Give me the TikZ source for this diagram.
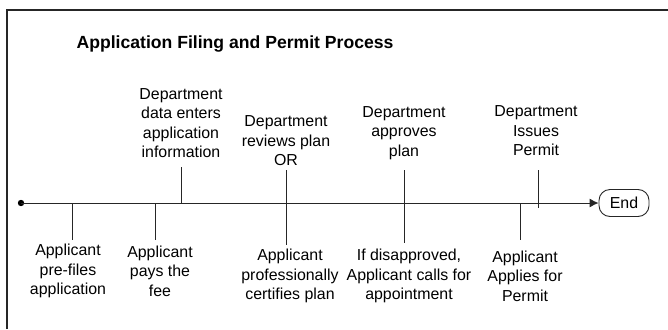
\documentclass[tikz,border=0pt]{standalone}
\usepackage{fontspec}
\setmainfont{Liberation Sans}
\usetikzlibrary{arrows.meta}

\begin{document}
\begin{tikzpicture}[x=1pt,y=-1pt]
\useasboundingbox (0,0) rectangle (668,329);

\coordinate (C1) at (7,329);
\coordinate (C2) at (7,10);
\coordinate (C3) at (668,10);

\coordinate (S) at (21,203);
\coordinate (T1_1) at (72,203);
\coordinate (T1_2) at (72,240);
\coordinate (T2_1) at (155,203);
\coordinate (T2_2) at (155,240);
\coordinate (T3_1) at (181,167);
\coordinate (T3_2) at (181,203);
\coordinate (T4_1) at (286,170);
\coordinate (T4_2) at (286,245);
\coordinate (T5_1) at (404,170);
\coordinate (T5_2) at (404,243);
\coordinate (T6_1) at (520,203);
\coordinate (T6_2) at (520,240);
\coordinate (T7_1) at (538,170);
\coordinate (T7_2) at (538,208);


\tikzset{FrameStyle/.style = {line width=1.2pt, draw=black!85} }
\tikzset{LineStyle/.style = {line width=0.9pt, draw=black!85} }

\draw[FrameStyle] (C1) -- (C2) -- (C3);

\node[font=\bfseries\fontsize{17.6}{20}\selectfont] (Title) at (235,44) {Application Filing and Permit Process};


\tikzset{LabelStyle/.style = {
 align = center,
 inner sep = 0pt,
 font = \fontsize{15.9}{19.4}\selectfont} }

\node[LabelStyle] (U1) at (181,123) {Department\\data enters\\application\\information};
\node[LabelStyle] (U2) at (286,141) {Department\\reviews plan\\OR};
\node[LabelStyle] (U3) at (404,133) {Department\\approves\\plan};
\node[LabelStyle] (U4) at (536,131) {Department\\Issues\\Permit};
\node[LabelStyle] (L1) at (68,271) {Applicant\\pre-files\\application};
\node[LabelStyle] (L2) at (160,271) {Applicant\\pays the\\fee};
\node[LabelStyle] (L3) at (290,276) {Applicant\\professionally\\certifies plan};
\node[LabelStyle] (L4) at (409,276) {If disapproved,\\Applicant calls for\\appointment};
\node[LabelStyle] (L5) at (525,276) {Applicant\\Applies for\\Permit};

\node[LabelStyle, draw=black!85, line width=0.9pt, rounded corners=11pt,
 minimum width=50pt, minimum height=27pt] (End) at (624,203) {End};


\fill[black] (S) circle (3.2pt);
\draw[LineStyle, -{Latex[length=9pt,width=9pt]}] (S) -- (End.west);

\draw[LineStyle] (T1_1) -- (T1_2);
\draw[LineStyle] (T2_1) -- (T2_2);
\draw[LineStyle] (T3_1) -- (T3_2);
\draw[LineStyle] (T4_1) -- (T4_2);
\draw[LineStyle] (T5_1) -- (T5_2);
\draw[LineStyle] (T6_1) -- (T6_2);
\draw[LineStyle] (T7_1) -- (T7_2);

\end{tikzpicture}
\end{document}
